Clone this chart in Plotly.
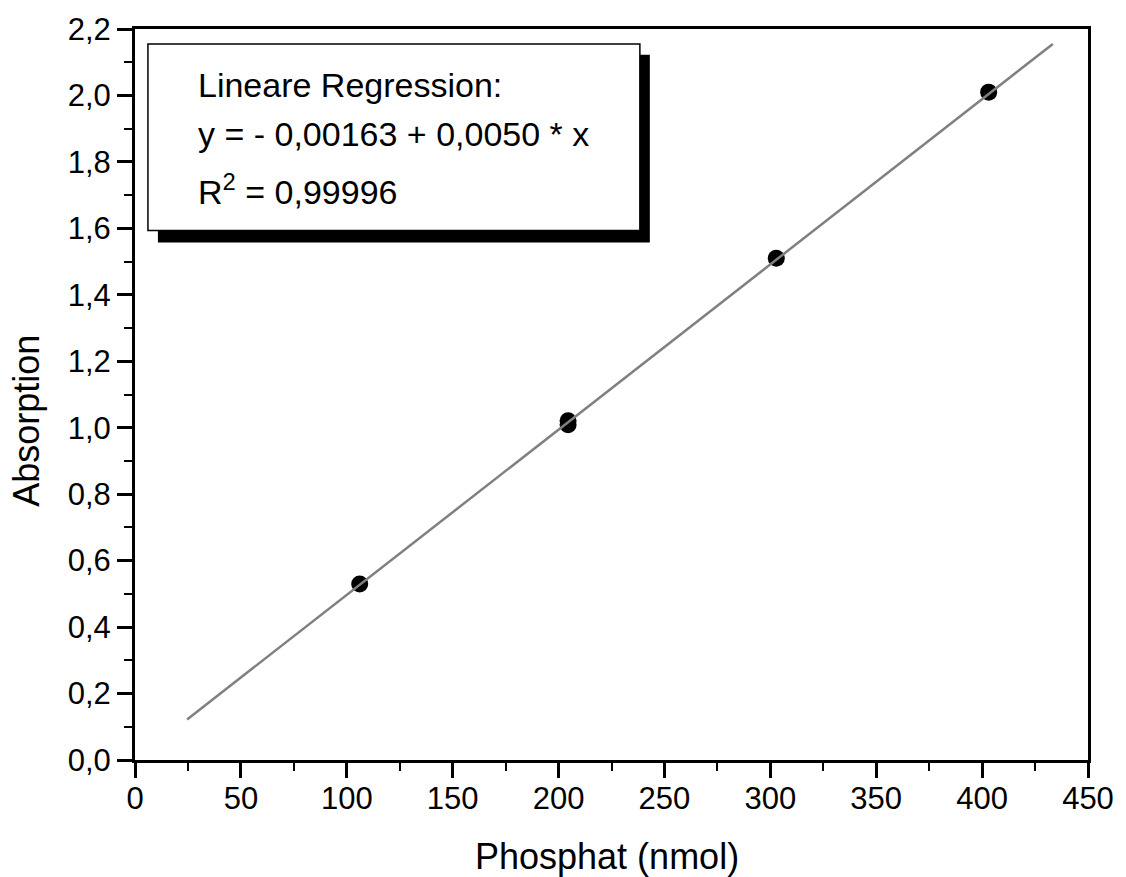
import plotly.graph_objects as go

# Data
phosphat = [106.1, 204.5, 204.5, 302.8, 403.1]
absorption = [0.530, 1.009, 1.021, 1.510, 2.010]
fit_x = [24.6, 433.4]
fit_y = [0.122, 2.155]

x_ticks = [0, 50, 100, 150, 200, 250, 300, 350, 400, 450]
y_ticks = [0.0, 0.2, 0.4, 0.6, 0.8, 1.0, 1.2, 1.4, 1.6, 1.8, 2.0, 2.2]
x_minor = [25, 75, 125, 175, 225, 275, 325, 375, 425]
y_minor = [0.1, 0.3, 0.5, 0.7, 0.9, 1.1, 1.3, 1.5, 1.7, 1.9, 2.1]

box_lines = ["Lineare Regression:", "y = - 0,00163 + 0,0050 * x", "R<sup>2</sup> = 0,99996"]

# plot area in pixels
L, R, T, B = 135, 1092, 24, 760
W, H = 1126, 877


def px(xp):
    return (xp - L) / (R - L)


def py(yp):
    return (B - yp) / (B - T)


FONT = "Liberation Sans, Arial, sans-serif"

fig = go.Figure()
fig.add_trace(go.Scatter(x=phosphat, y=absorption, mode="markers",
                         marker=dict(color="black", size=17, line=dict(width=0)),
                         showlegend=False, cliponaxis=False))
fig.add_trace(go.Scatter(x=fit_x, y=fit_y, mode="lines",
                         line=dict(color="#808080", width=2.5),
                         showlegend=False))

common = dict(showline=True, linecolor="black", linewidth=3, mirror=True,
              showgrid=False, zeroline=False,
              tickfont=dict(family=FONT, size=31, color="black"))

fig.update_xaxes(range=[0, 450], tickvals=x_ticks, ticktext=[str(v) for v in x_ticks],
                 ticks="outside", ticklen=15, tickwidth=2.5, tickcolor="black",
                 ticklabelposition="outside", ticklabelstandoff=-6,
                 minor=dict(ticks="outside", ticklen=8, tickwidth=2, tickcolor="black",
                            tickvals=x_minor),
                 **common)
fig.update_yaxes(range=[0, 2.2], tickvals=y_ticks, ticktext=[f"{v:.1f}".replace(".", ",") for v in y_ticks],
                 ticks="outside", ticklen=15, tickwidth=2.5, tickcolor="black",
                 minor=dict(ticks="outside", ticklen=8, tickwidth=2, tickcolor="black",
                            tickvals=y_minor),
                 **common)

shapes = [
    dict(type="rect", xref="paper", yref="paper", x0=px(158), x1=px(652), y0=py(239), y1=py(50),
         fillcolor="black", line=dict(width=0), layer="above"),
    dict(type="rect", xref="paper", yref="paper", x0=px(148), x1=px(642), y0=py(227), y1=py(39),
         fillcolor="white", line=dict(color="black", width=1.5), layer="above"),
]

annotations = []
for txt, yc in zip(box_lines, [80, 130, 186]):
    annotations.append(dict(text=txt, xref="paper", yref="paper", x=px(196), y=py(yc),
                            xanchor="left", yanchor="middle", showarrow=False,
                            font=dict(family=FONT, size=34, color="black")))
annotations.append(dict(text="Phosphat (nmol)", xref="paper", yref="paper", x=px(609), y=py(857),
                        xanchor="center", yanchor="middle", showarrow=False,
                        font=dict(family=FONT, size=36, color="black")))
annotations.append(dict(text="Absorption", xref="paper", yref="paper", x=px(26), y=py(418),
                        xanchor="center", yanchor="middle", showarrow=False, textangle=-90,
                        font=dict(family=FONT, size=36, color="black")))

fig.update_layout(width=W, height=H, margin=dict(l=L, r=W - R, t=T, b=H - B),
                  plot_bgcolor="white", paper_bgcolor="white",
                  shapes=shapes, annotations=annotations, separators=",.",
                  font=dict(family=FONT, color="black"))

fig.write_html("out.html")
